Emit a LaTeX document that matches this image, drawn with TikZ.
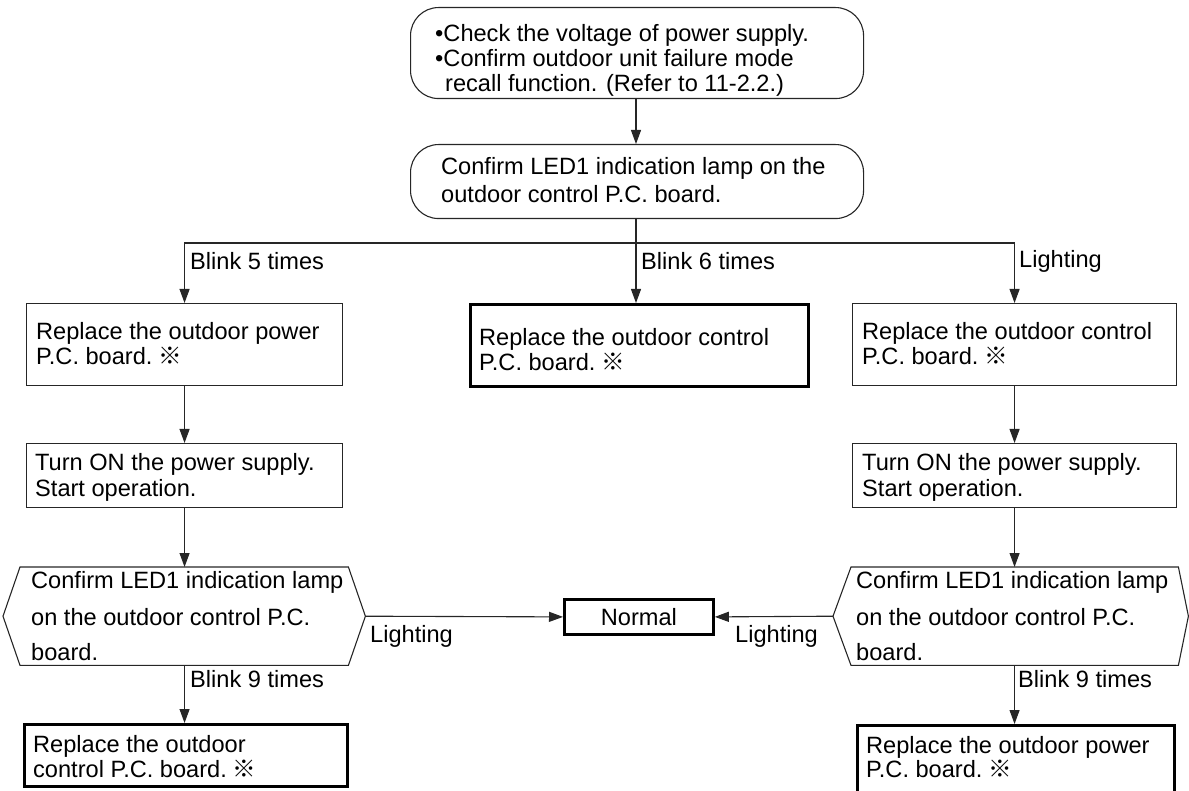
\documentclass[tikz,border=0pt]{standalone}
\usepackage{fontspec}
\setmainfont{Liberation Sans}
\newfontfamily\cjkfont{Noto Sans CJK JP}
\usetikzlibrary{arrows.meta}
\newcommand{\refmk}{\hspace{6pt}{\cjkfont ※}}
\begin{document}
\begin{tikzpicture}[x=1pt,y=-1pt,
  ln/.style={draw=black!85, line width=1.1pt},
  arr/.style={ln, -{Triangle[length=14pt,width=10pt]}},
  thinbox/.style={ln, fill=white, inner sep=0pt, anchor=north west},
  thickbox/.style={draw=black, line width=2.8pt, fill=white, inner sep=0pt, anchor=north west},
  roundbox/.style={thinbox, rounded corners=28pt},
  hexbody/.style={inner sep=0pt, anchor=north west},
  txt/.style={anchor=base west, inner sep=0pt, font=\fontsize{23.6}{28}\selectfont},
  ctxt/.style={inner sep=0pt, font=\fontsize{23.6}{28}\selectfont}
]
\useasboundingbox (0,0) rectangle (1189,791);

% ---------- boxes ----------
\node[roundbox, minimum width=453pt, minimum height=91pt] (top) at (410,7) {};
\node[roundbox, minimum width=453pt, minimum height=74pt] (led) at (410,144) {};
\node[thinbox, minimum width=316pt, minimum height=82pt] (rl) at (26,303) {};
\node[thickbox, minimum width=338pt, minimum height=82pt] (rm) at (469,303) {};
\node[thinbox, minimum width=324pt, minimum height=82pt] (rr) at (852,303) {};
\node[thinbox, minimum width=316pt, minimum height=64pt] (onl) at (26,443) {};
\node[thinbox, minimum width=324pt, minimum height=64pt] (onr) at (852,443) {};
\node[hexbody, minimum width=328pt, minimum height=98pt] (hexl) at (20,567) {};
\node[hexbody, minimum width=327pt, minimum height=98pt] (hexr) at (851,567) {};
\node[thickbox, minimum width=149pt, minimum height=35pt] (nor) at (563,598) {};
\node[thickbox, minimum width=323pt, minimum height=62pt] (bl) at (23,723) {};
\node[thickbox, minimum width=317pt, minimum height=70pt] (br) at (856,724) {};

% hexagon outlines
\coordinate (hexlR) at ([xshift=17pt]hexl.east);
\coordinate (hexlL) at ([xshift=-17pt]hexl.west);
\coordinate (hexrR) at ([xshift=10pt]hexr.east);
\coordinate (hexrL) at ([xshift=-18pt]hexr.west);
\draw[ln] (hexl.north west) -- (hexl.north east) -- (hexlR) -- (hexl.south east) -- (hexl.south west) -- (hexlL) -- cycle;
\draw[ln] (hexr.north west) -- (hexr.north east) -- (hexrR) -- (hexr.south east) -- (hexr.south west) -- (hexrL) -- cycle;

% ---------- connectors ----------
\coordinate (split) at (636,243);
\draw[arr] (top.south -| split) -- (led.north -| split);
\draw[ln] (led.south -| split) -- (split);
\draw[arr] (split) -| (rl.north);
\draw[arr] (split) -| (rr.north);
\draw[arr] (split) -- (split |- rm.north);
\draw[arr] (rl.south) -- (onl.north);
\draw[arr] (rr.south) -- (onr.north);
\draw[arr] (onl.south) -- (onl.south |- hexl.north);
\draw[arr] (onr.south) -- (onr.south |- hexr.north);
\draw[arr] (hexlR) -- (nor.west);
\draw[arr] (hexrL) -- (nor.east);
\draw[arr] (onl.south |- hexl.south) -- (onl.south |- bl.north);
\draw[arr] (onr.south |- hexr.south) -- (onr.south |- br.north);

% ---------- texts ----------
\node[txt] (t1) at (435,42) {•Check the voltage of power supply.};
\node[txt] (t2) at (435,67) {•Confirm outdoor unit failure mode};
\node[txt] (t3) at (445,92) {recall function. (Refer to 11-2.2.)};

\node[txt] (l1) at (441,175) {Confirm LED1 indication lamp on the};
\node[txt] (l2) at (441,203) {outdoor control P.C. board.};

\node[txt] (b5) at (190,270) {Blink 5 times};
\node[txt] (b6) at (641,270) {Blink 6 times};
\node[txt] (lg) at (1019,268) {Lighting};

\node[txt] (rl1) at (36,340) {Replace the outdoor power};
\node[txt] (rl2) at (36,365) {P.C. board.\refmk};
\node[txt] (rm1) at (479,346) {Replace the outdoor control};
\node[txt] (rm2) at (479,371) {P.C. board.\refmk};
\node[txt] (rr1) at (862,340) {Replace the outdoor control};
\node[txt] (rr2) at (862,365) {P.C. board.\refmk};

\node[txt] (on1) at (35,470) {Turn ON the power supply.};
\node[txt] (on2) at (35,496) {Start operation.};
\node[txt] (on3) at (862,470) {Turn ON the power supply.};
\node[txt] (on4) at (862,496) {Start operation.};

\node[txt] (hl1) at (31,588) {Confirm LED1 indication lamp};
\node[txt] (hl2) at (31,625) {on the outdoor control P.C.};
\node[txt] (hl3) at (31,660) {board.};
\node[txt] (hr1) at (856,588) {Confirm LED1 indication lamp};
\node[txt] (hr2) at (856,625) {on the outdoor control P.C.};
\node[txt] (hr3) at (856,660) {board.};

\node[ctxt] (nt) at (nor.center) {Normal};
\node[txt] (lgl) at (370,642) {Lighting};
\node[txt] (lgr) at (735,642) {Lighting};

\node[txt] (b9l) at (190,687) {Blink 9 times};
\node[txt] (b9r) at (1018,687) {Blink 9 times};

\node[txt] (bl1) at (33,752) {Replace the outdoor};
\node[txt] (bl2) at (33,777) {control P.C. board.\refmk};
\node[txt] (br1) at (866,753) {Replace the outdoor power};
\node[txt] (br2) at (866,777) {P.C. board.\refmk};
\end{tikzpicture}
\end{document}
